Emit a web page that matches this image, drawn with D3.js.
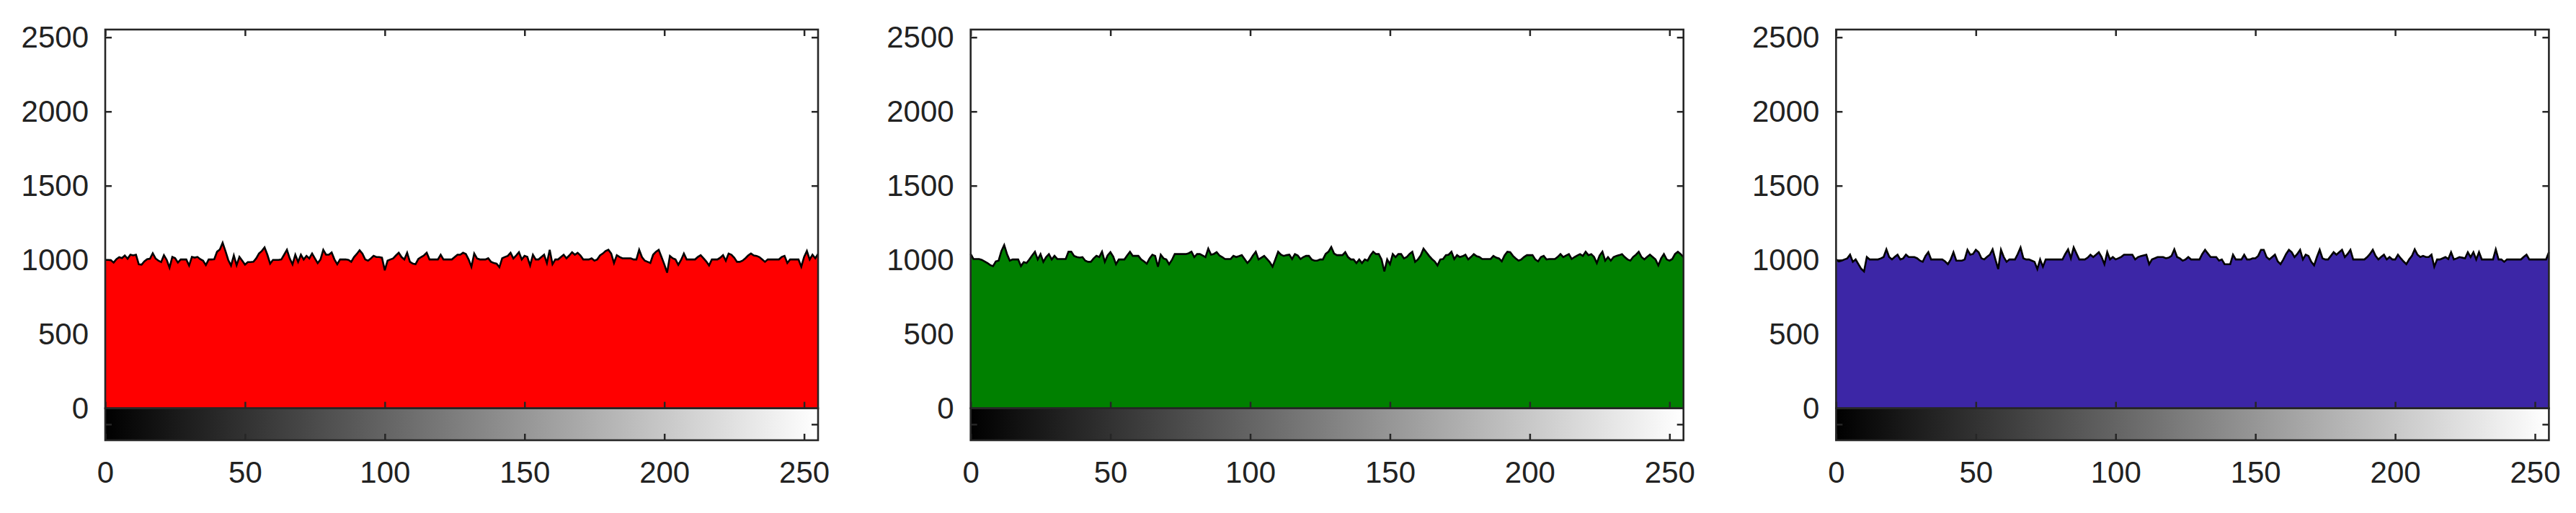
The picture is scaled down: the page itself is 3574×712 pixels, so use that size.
<!DOCTYPE html>
<html>
<head>
<meta charset="utf-8">
<script src="https://cdn.jsdelivr.net/npm/d3@7"></script>
<style>
  html, body { margin: 0; padding: 0; background: #ffffff; }
  svg { display: block; }
  .tick text { font-family: "Liberation Sans", Arial, sans-serif; fill: #222222; }
</style>
</head>
<body>
<svg id="chart" width="3574" height="712"></svg>
<script>
// ---------- DATA ----------
const intensityLevels = d3.range(0, 256); // bins 0..255
const xTickLabels = [0, 50, 100, 150, 200, 250];
const yTickLabels = [0, 500, 1000, 1500, 2000, 2500];
const channelNames = ["Red", "Green", "Blue"];
const channelColors = ["#ff0000", "#008000", "#3c26a6"];

const redCounts = [
1000,1000,998,982,1005,1018,1012,1030,1008,1035,1030,1035,970,968,990,1005,
1008,1045,1010,995,985,1032,1000,948,1020,1012,982,1003,1003,1003,962,1020,
1015,1020,1005,995,965,1003,1003,1005,1055,1070,1115,1060,1000,962,1030,965,
1020,995,968,985,985,987,1010,1043,1060,1084,1035,975,1000,1000,1000,1003,
1035,1068,1010,970,1035,987,1035,1003,1027,1010,1043,1010,978,1003,1068,1035,
1035,1050,1003,971,1003,1003,1003,1000,987,1019,1040,1065,1043,1003,995,1010,
1027,1019,1019,1015,930,995,1003,1010,1030,1048,1019,1003,1048,987,975,971,
1006,1019,1030,1048,1003,1003,1003,1003,1035,1003,1003,1003,1003,1019,1035,1035,
1048,1040,1003,954,1043,1010,1003,1003,1003,1011,987,979,975,951,1011,1020,
1027,1048,1010,1030,1052,1003,1027,1020,963,1035,1003,1003,1019,1035,979,1068,
971,1003,1003,1019,1035,1011,1030,1052,1035,1048,1030,1003,1003,1003,1011,995,
1003,1030,1043,1060,1068,1043,979,1032,1020,1011,1011,1011,1011,1003,1003,1068,
1019,995,987,979,1035,1055,1068,1019,970,914,1027,1011,1003,967,1000,1043,
1003,1003,1003,1003,1020,1032,1011,990,963,1003,1003,1003,1015,1032,995,1043,
1035,1015,987,987,995,1011,1030,1043,1030,1027,1019,1003,987,1003,1003,1003,
1003,1003,1020,1027,979,1003,1003,1003,1003,954,1020,1060,1003,1035,1011,1040
];

const greenCounts = [
1040,1006,1006,1006,1000,990,979,965,958,990,995,1060,1100,1040,995,1003,
1003,1003,958,985,979,1003,1030,1055,1003,1039,987,1019,1039,1003,1027,1006,
1006,1006,1006,1055,1055,1027,1019,1016,1019,995,987,987,1010,1027,1019,1055,
987,1030,1052,1022,971,1003,1003,1003,1030,1055,1027,1027,1027,1003,990,974,
1010,1035,1027,954,1035,1010,1003,971,1000,1039,1039,1039,1039,1039,1045,1055,
1019,1039,1039,1030,1019,1076,1035,1040,1052,1030,1019,1006,1006,1006,1027,1019,
1025,1032,1006,979,1000,1030,1055,1003,1015,1027,1006,985,954,1003,1055,1035,
1027,1032,1035,1006,1039,1030,1006,1019,1027,1027,1003,995,995,1003,1003,1040,
1055,1087,1043,1032,1032,1032,1052,1019,1003,1003,979,1003,979,1003,995,1030,
1055,1039,1039,1003,922,1003,971,1039,1019,1039,1039,1010,1019,1040,1055,987,
1003,1030,1076,1052,1027,1006,990,963,1003,1006,1032,1035,1055,1006,1032,1019,
1025,1035,1003,1020,1039,1025,1019,1006,1006,1006,1006,1027,1015,1010,990,1030,
1055,1052,1027,1010,995,1003,1020,1032,1032,1032,1003,990,1019,1027,1003,1006,
1006,1006,1020,1039,1019,1030,1039,1006,1019,1030,1039,1027,1055,1032,1039,1020,
979,1030,1055,995,1019,995,1019,1027,1032,1039,1019,1003,995,1020,1035,1055,
1019,1003,1020,1035,1019,1003,963,1010,1039,1003,995,1006,1040,1055,1039,1019
];

const blueCounts = [
1003,990,995,1003,1010,1035,987,1003,971,940,922,1019,1003,1003,1003,1003,
1010,1019,1071,1019,1003,1020,1035,1003,1010,1035,1019,1019,1019,1011,995,987,
1027,1052,1003,1003,1003,1003,1003,990,971,1003,1052,995,995,995,1003,1068,
1035,1040,1068,1052,1011,1003,1020,1035,1071,1003,938,1068,1019,987,1003,1003,
1003,1040,1084,1011,1003,1003,995,987,938,1003,954,1003,1003,1003,1003,1003,
1003,1003,1040,1071,1011,1084,1043,1003,1003,1003,1015,1035,1019,1035,1052,1019,
971,1052,1003,1019,1003,1011,1020,1035,1035,1035,1035,1003,1019,1025,1030,1035,
971,1003,1011,1019,1019,1019,1011,1015,1027,1071,1019,1010,995,1003,1019,1003,
1003,1003,1003,1040,1068,1043,1019,1019,1019,995,1003,971,971,971,1035,1003,
1003,1003,1035,1003,1003,1011,1011,1027,1068,1068,1019,1003,1019,1035,990,971,
1003,1040,1068,1052,1019,1040,1068,1003,1035,1027,987,963,1019,1068,1011,1003,
1003,1027,1052,1035,1052,1068,1019,1040,1068,1003,1003,1003,1003,1003,1019,1040,
1068,1027,1003,1020,1035,1003,1019,1003,1003,1035,1011,990,971,1003,1027,1071,
1035,1019,1027,1019,1019,1035,954,1003,1003,1011,1019,1006,1052,1003,1010,1019,
1015,1011,1052,1019,1052,1003,1052,1003,1003,1003,1003,1003,1071,1003,1003,987,
1003,1003,1003,1003,1003,1003,1020,1035,1003,1003,1003,1003,1003,1003,1003,1052
];

const seriesList = [redCounts, greenCounts, blueCounts];

// ---------- LAYOUT ----------
const svg = d3.select("#chart");
const panelLeft0 = 146, panelStep = 1200.7, panelWidth = 989;
const histTop = 41, histBottom = 566.7, barBottom = 611;
const yMax = 2552;
const frameColor = "#262626";
const fontSize = 42;

const defs = svg.append("defs");
const grad = defs.append("linearGradient").attr("id", "gray").attr("x1", "0%").attr("x2", "100%").attr("y1", "0%").attr("y2", "0%");
grad.append("stop").attr("offset", "0%").attr("stop-color", "#000000");
grad.append("stop").attr("offset", "100%").attr("stop-color", "#ffffff");

seriesList.forEach((counts, p) => {
  const left = panelLeft0 + p * panelStep;
  const right = left + panelWidth;
  const g = svg.append("g").attr("class", "panel-" + channelNames[p]);

  const x = d3.scaleLinear().domain([0, 255]).range([left, right]);
  const y = d3.scaleLinear().domain([0, yMax]).range([histBottom, histTop]);
  const yBar = d3.scaleLinear().domain([0, 1]).range([barBottom, histBottom]);

  // histogram y ticks (inner) - left & right, drawn under the area
  const yAxisL = g.append("g").attr("transform", `translate(${left},0)`)
    .call(d3.axisLeft(y).tickValues(yTickLabels).tickSize(-9).tickPadding(23).tickFormat(d3.format("d")));
  const yAxisR = g.append("g").attr("transform", `translate(${right},0)`)
    .call(d3.axisRight(y).tickValues(yTickLabels).tickSize(-9).tickFormat(""));
  const xAxisTop = g.append("g").attr("transform", `translate(0,${histTop})`)
    .call(d3.axisTop(x).tickValues(xTickLabels).tickSize(-9).tickFormat(""));
  [yAxisL, yAxisR, xAxisTop].forEach(a => {
    a.select(".domain").remove();
    a.selectAll(".tick line").attr("stroke", frameColor).attr("stroke-width", 2.5);
  });
  yAxisL.selectAll(".tick text").attr("font-size", fontSize);

  // area
  const area = d3.area().x((d, i) => x(intensityLevels[i])).y0(y(0)).y1(d => y(d));
  const line = d3.line().x((d, i) => x(intensityLevels[i])).y(d => y(d));
  g.append("path").datum(counts).attr("d", area).attr("fill", channelColors[p]);
  g.append("path").datum(counts).attr("d", line).attr("fill", "none").attr("stroke", "#000").attr("stroke-width", 2.6).attr("stroke-linejoin", "miter");

  // histogram bottom x ticks (inner)
  const xAxisHB = g.append("g").attr("transform", `translate(0,${histBottom})`)
    .call(d3.axisBottom(x).tickValues(xTickLabels).tickSize(-9).tickFormat(""));
  xAxisHB.select(".domain").remove();
  xAxisHB.selectAll(".tick line").attr("stroke", frameColor).attr("stroke-width", 2.5);

  // histogram frame
  g.append("rect").attr("x", left).attr("y", histTop).attr("width", right - left).attr("height", histBottom - histTop)
    .attr("fill", "none").attr("stroke", frameColor).attr("stroke-width", 2.6);

  // colorbar
  g.append("rect").attr("x", left).attr("y", histBottom).attr("width", right - left).attr("height", barBottom - histBottom)
    .attr("fill", "url(#gray)");
  const xAxisBar = g.append("g").attr("transform", `translate(0,${barBottom})`)
    .call(d3.axisBottom(x).tickValues(xTickLabels).tickSize(-9).tickPadding(29).tickFormat(d3.format("d")));
  xAxisBar.select(".domain").remove();
  xAxisBar.selectAll(".tick line").attr("stroke", frameColor).attr("stroke-width", 2.5);
  xAxisBar.selectAll(".tick text").attr("font-size", fontSize);
  const barL = g.append("g").attr("transform", `translate(${left},0)`)
    .call(d3.axisLeft(yBar).tickValues([0.5]).tickSize(-9).tickFormat(""));
  const barR = g.append("g").attr("transform", `translate(${right},0)`)
    .call(d3.axisRight(yBar).tickValues([0.5]).tickSize(-9).tickFormat(""));
  [barL, barR].forEach(a => {
    a.select(".domain").remove();
    a.selectAll(".tick line").attr("stroke", frameColor).attr("stroke-width", 2.5);
  });
  g.append("rect").attr("x", left).attr("y", histBottom).attr("width", right - left).attr("height", barBottom - histBottom)
    .attr("fill", "none").attr("stroke", frameColor).attr("stroke-width", 2.6);
});
</script>
</body>
</html>
